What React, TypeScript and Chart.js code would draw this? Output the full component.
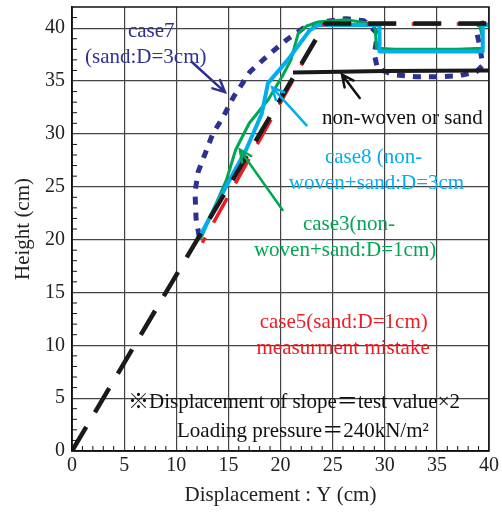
import { useEffect, useRef } from 'react';
import Chart from 'chart.js/auto';

// ---- data (x: displacement cm, y: height cm) ----
const baseDashedX = [0, 24.3, 40];
const baseDashedY = [0, 40.45, 40.45];

const nonWovenX = [21.2, 30, 40];
const nonWovenY = [35.8, 35.95, 36.0];

const case5X = [12.5, 24.2, 40];
const case5Y = [19.7, 40.4, 40.4];

const case3X = [12.3, 14.8, 15.7, 17.0, 18.8, 20.2, 21.0, 21.7, 22.5, 23.8, 26.3, 28.9, 29.1, 29.2, 31.0, 37.0, 39.4, 39.4, 39.1, 40];
const case3Y = [20.0, 25.6, 28.5, 31.0, 33.2, 35.5, 37.0, 39.5, 40.2, 40.6, 40.8, 40.4, 39.8, 38.1, 38.0, 38.0, 38.1, 39.0, 40.3, 40.4];

const case8X = [12.1, 14.5, 16.7, 18.2, 18.8, 20.7, 22.8, 23.6, 29.5, 29.5, 39.4, 39.4, 40];
const case8Y = [20.0, 24.5, 28.5, 31.9, 34.8, 37.0, 39.8, 40.3, 40.3, 37.8, 37.8, 40.3, 40.3];

const case7X = [12.2, 11.9, 11.8, 12.1, 12.8, 13.5, 14.5, 15.5, 17.1, 19.0, 20.6, 22.2, 24.0, 26.3, 28.0, 29.3, 29.0, 29.3, 30.8, 33.0, 35.0, 37.2, 38.8, 39.4, 39.1, 38.8, 39.2, 40];
const case7Y = [20.3, 22.0, 24.5, 26.4, 28.2, 30.0, 31.6, 33.5, 35.9, 37.6, 38.9, 40.0, 40.6, 40.9, 40.7, 39.5, 37.5, 36.2, 35.6, 35.4, 35.4, 35.5, 35.9, 36.5, 38.4, 39.7, 40.4, 40.7];

const xTickValues = [0, 5, 10, 15, 20, 25, 30, 35, 40];
const yTickValues = [0, 5, 10, 15, 20, 25, 30, 35, 40];

// annotations (data coordinates)
const labelTexts = [
  'case7', '(sand:D=3cm)', 'non-woven or sand', 'case8 (non-', 'woven+sand:D=3cm',
  'case3(non-', 'woven+sand:D=1cm)', 'case5(sand:D=1cm)', 'measurment mistake',
  '※Displacement of slope＝test value×2', 'Loading pressure＝240kN/m²',
];
const labelX = [5.37, 1.25, 23.97, 24.26, 20.8, 22.15, 17.45, 18.0, 17.7, 5.37, 10.07];
const labelY = [39.7, 37.2, 31.5, 27.8, 25.3, 21.4, 19.0, 12.2, 9.74, 4.63, 1.8];
const labelColors = ['#2e3192', '#2e3192', '#111111', '#00aeef', '#00aeef', '#00a651', '#00a651', '#ed1c24', '#ed1c24', '#111111', '#111111'];

const arrowFromX = [11.5, 27.6, 22.5, 20.2];
const arrowFromY = [36.8, 33.4, 30.8, 22.8];
const arrowToX = [14.67, 25.9, 19.2, 16.1];
const arrowToY = [33.95, 35.6, 34.4, 28.5];
const arrowColors = ['#2e3192', '#111111', '#00aeef', '#00a651'];

const SERIF = '"Liberation Serif", "Noto Sans CJK JP", serif';

const pts = (xs: number[], ys: number[]) => xs.map((x, i) => ({ x, y: ys[i] }));

const overlayPlugin = {
  id: 'overlay',
  afterDatasetsDraw(chart: any) {
    const { ctx, chartArea, scales } = chart;
    const xs = scales.x;
    const ys = scales.y;
    ctx.save();
    // frame
    ctx.strokeStyle = '#111';
    ctx.lineWidth = 1.5;
    ctx.strokeRect(chartArea.left, chartArea.top, chartArea.right - chartArea.left, chartArea.bottom - chartArea.top);
    // minor ticks inward
    ctx.lineWidth = 1;
    ctx.strokeStyle = '#111';
    for (let v = 1; v < 42; v++) {
      if (v % 5 === 0) continue;
      const py = ys.getPixelForValue(v);
      ctx.beginPath();
      ctx.moveTo(chartArea.left, py);
      ctx.lineTo(chartArea.left + 5, py);
      ctx.stroke();
    }
    for (let v = 1; v < 40; v++) {
      if (v % 5 === 0) continue;
      const px = xs.getPixelForValue(v);
      ctx.beginPath();
      ctx.moveTo(px, chartArea.bottom);
      ctx.lineTo(px, chartArea.bottom - 5);
      ctx.stroke();
    }
    // arrows
    for (let i = 0; i < arrowFromX.length; i++) {
      const x1 = xs.getPixelForValue(arrowFromX[i]);
      const y1 = ys.getPixelForValue(arrowFromY[i]);
      const x2 = xs.getPixelForValue(arrowToX[i]);
      const y2 = ys.getPixelForValue(arrowToY[i]);
      ctx.strokeStyle = arrowColors[i];
      ctx.lineWidth = 2.5;
      ctx.lineCap = 'round';
      ctx.beginPath();
      ctx.moveTo(x1, y1);
      ctx.lineTo(x2, y2);
      const ang = Math.atan2(y2 - y1, x2 - x1);
      const hl = 13;
      ctx.moveTo(x2 - hl * Math.cos(ang - 0.45), y2 - hl * Math.sin(ang - 0.45));
      ctx.lineTo(x2, y2);
      ctx.lineTo(x2 - hl * Math.cos(ang + 0.45), y2 - hl * Math.sin(ang + 0.45));
      ctx.stroke();
    }
    // labels
    ctx.font = '21px ' + SERIF;
    ctx.textAlign = 'left';
    ctx.textBaseline = 'middle';
    for (let i = 0; i < labelTexts.length; i++) {
      ctx.fillStyle = labelColors[i];
      ctx.fillText(labelTexts[i], xs.getPixelForValue(labelX[i]), ys.getPixelForValue(labelY[i]));
    }
    ctx.restore();
  },
};

export default function App() {
  const ref = useRef<HTMLCanvasElement | null>(null);
  useEffect(() => {
    document.body.style.margin = '0';
    const canvas = ref.current!;
    const tickFont = { family: SERIF, size: 20 };
    const chart = new Chart(canvas, {
      type: 'line',
      data: {
        datasets: [
          { data: pts(nonWovenX, nonWovenY), borderColor: '#1a1a1a', borderWidth: 4, order: 0 },
          { data: pts(baseDashedX, baseDashedY), borderColor: '#1a1a1a', borderWidth: 4.5, borderDash: [28, 17], order: 1 },
          { data: pts(case5X, case5Y), borderColor: '#ed1c24', borderWidth: 3.5, borderDash: [28, 17], borderDashOffset: 22, order: 2 },
          { data: pts(case8X, case8Y), borderColor: '#00aeef', borderWidth: 4, order: 3 },
          { data: pts(case3X, case3Y), borderColor: '#00a651', borderWidth: 3, order: 4 },
          { data: pts(case7X, case7Y), borderColor: '#2e3192', borderWidth: 5, borderDash: [8, 8], order: 5 },
        ].map((d) => ({ ...d, pointRadius: 0, fill: false, tension: 0, borderCapStyle: 'butt' as const, borderJoinStyle: 'round' as const })),
      },
      options: {
        animation: false,
        responsive: false,
        maintainAspectRatio: false,
        layout: { padding: { top: 7, right: 13, left: 0, bottom: 0 } },
        plugins: { legend: { display: false }, tooltip: { enabled: false } },
        scales: {
          x: {
            type: 'linear',
            min: 0,
            max: 40,
            afterBuildTicks: (s: any) => { s.ticks = xTickValues.map((v) => ({ value: v })); },
            ticks: { font: tickFont, color: '#222', padding: 3, maxRotation: 0, autoSkip: false },
            grid: { color: '#444', lineWidth: 1.2, drawTicks: false },
            border: { color: '#111', width: 1.5 },
            title: { display: true, text: 'Displacement : Y (cm)', font: { family: SERIF, size: 21 }, color: '#222', padding: { top: 2, bottom: 4 } },
            afterFit: (s: any) => { s.height = 61; s.paddingLeft = 0; s.paddingRight = 0; },
          },
          y: {
            type: 'linear',
            min: 0,
            max: 42,
            afterBuildTicks: (s: any) => { s.ticks = yTickValues.map((v) => ({ value: v })); },
            ticks: { font: tickFont, color: '#222', padding: 7, autoSkip: false },
            grid: { color: '#444', lineWidth: 1.2, drawTicks: false },
            border: { color: '#111', width: 1.5 },
            title: { display: true, text: 'Height (cm)', font: { family: SERIF, size: 21 }, color: '#222', padding: { top: 11, bottom: 0 } },
            afterFit: (s: any) => { s.width = 72; s.paddingTop = 0; s.paddingBottom = 0; },
          },
        },
      },
      plugins: [overlayPlugin],
    });
    return () => chart.destroy();
  }, []);
  return <canvas ref={ref} width={502} height={512} style={{ display: 'block', width: 502, height: 512 }} />;
}
